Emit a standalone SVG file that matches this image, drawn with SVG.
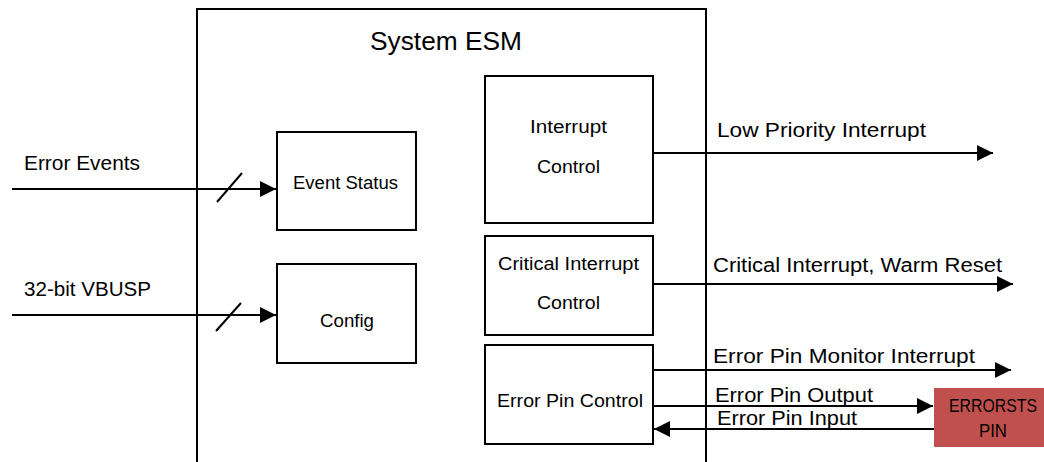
<svg xmlns="http://www.w3.org/2000/svg" width="1044" height="462" viewBox="0 0 1044 462">
<style>
.box{fill:#ffffff;stroke:#000000;stroke-width:2}
.ln{fill:none;stroke:#000000;stroke-width:2}
.arr{fill:none;stroke:#000000;stroke-width:2;marker-end:url(#ah)}
text{font-family:"Liberation Sans",Arial,sans-serif;fill:#000000}
.lbl{font-size:20px}
.bt{font-size:17.5px}
.title{font-size:25px}
</style>
<defs>
<marker id="ah" viewBox="0 0 16 16" refX="16" refY="8" markerWidth="16" markerHeight="16" markerUnits="userSpaceOnUse" orient="auto">
<path d="M0,0 L16,8 L0,16 z" fill="#000000"/>
</marker>
</defs>
<rect width="1044" height="462" fill="#ffffff"/>

<g id="system-esm">
<rect class="box" x="197" y="9" width="509" height="470"/>
<text class="title" x="370" y="50" textLength="152" lengthAdjust="spacingAndGlyphs">System ESM</text>
</g>

<g id="connectors">
<line class="arr" x1="12" y1="189" x2="276" y2="189"/>
<line class="ln" x1="217" y1="202" x2="242" y2="173"/>
<line class="arr" x1="12" y1="315" x2="276" y2="315"/>
<line class="ln" x1="216" y1="331" x2="241" y2="303"/>
<line class="arr" x1="653" y1="153" x2="993" y2="153"/>
<line class="arr" x1="653" y1="284" x2="1013" y2="284"/>
<line class="arr" x1="653" y1="370" x2="1011" y2="370"/>
<line class="arr" x1="653" y1="406" x2="933" y2="406"/>
<line class="arr" x1="934" y1="429" x2="654" y2="429"/>
<text class="lbl" x="24" y="170" textLength="116" lengthAdjust="spacingAndGlyphs">Error Events</text>
<text class="lbl" x="24" y="296" textLength="127" lengthAdjust="spacingAndGlyphs">32-bit VBUSP</text>
<text class="lbl" x="717" y="137" textLength="209" lengthAdjust="spacingAndGlyphs">Low Priority Interrupt</text>
<text class="lbl" x="713" y="272" textLength="289" lengthAdjust="spacingAndGlyphs">Critical Interrupt, Warm Reset</text>
<text class="lbl" x="713" y="363" textLength="262" lengthAdjust="spacingAndGlyphs">Error Pin Monitor Interrupt</text>
<text class="lbl" x="715" y="402" textLength="158" lengthAdjust="spacingAndGlyphs">Error Pin Output</text>
<text class="lbl" x="717" y="425" textLength="140" lengthAdjust="spacingAndGlyphs">Error Pin Input</text>
</g>

<g id="event-status">
<rect class="box" x="277" y="132" width="139" height="98"/>
<text class="bt" x="293" y="189" textLength="105" lengthAdjust="spacingAndGlyphs">Event Status</text>
</g>

<g id="config">
<rect class="box" x="277" y="264" width="139" height="99"/>
<text class="bt" x="320" y="327" textLength="54" lengthAdjust="spacingAndGlyphs">Config</text>
</g>

<g id="interrupt-control">
<rect class="box" x="485" y="76" width="168" height="147"/>
<text class="bt" x="530" y="133" textLength="77" lengthAdjust="spacingAndGlyphs">Interrupt</text>
<text class="bt" x="537" y="173" textLength="63" lengthAdjust="spacingAndGlyphs">Control</text>
</g>

<g id="critical-interrupt-control">
<rect class="box" x="485" y="236" width="168" height="99"/>
<text class="bt" x="498" y="270" textLength="141" lengthAdjust="spacingAndGlyphs">Critical Interrupt</text>
<text class="bt" x="537" y="309" textLength="63" lengthAdjust="spacingAndGlyphs">Control</text>
</g>

<g id="error-pin-control">
<rect class="box" x="485" y="345" width="168" height="99"/>
<text class="bt" x="497" y="407" textLength="146" lengthAdjust="spacingAndGlyphs">Error Pin Control</text>
</g>

<g id="errorsts-pin">
<rect x="934" y="388" width="110" height="59" fill="#C0504D"/>
<text class="bt" x="949" y="412" textLength="88" lengthAdjust="spacingAndGlyphs">ERRORSTS</text>
<text class="bt" x="979" y="437" textLength="28" lengthAdjust="spacingAndGlyphs">PIN</text>
</g>
</svg>
